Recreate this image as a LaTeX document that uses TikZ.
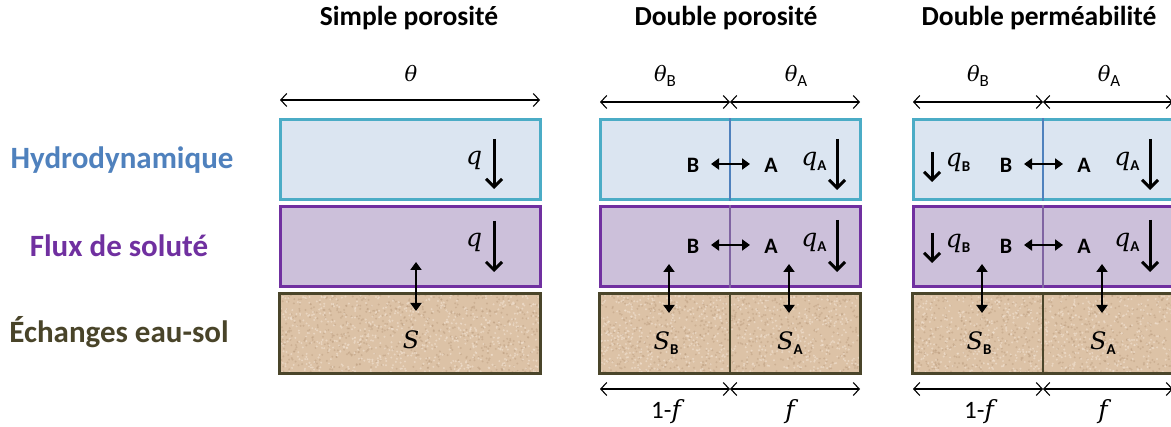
\documentclass[tikz,border=0pt]{standalone}
\usepackage{fontspec}
\setmainfont{Carlito}
\newfontfamily\mfont{DejaVu Serif}
\usetikzlibrary{arrows.meta}
\definecolor{hydfill}{HTML}{DBE5F1}
\definecolor{hydline}{HTML}{4BACC6}
\definecolor{hyddiv}{HTML}{4F81BD}
\definecolor{solfill}{HTML}{CCC0DA}
\definecolor{solline}{HTML}{7030A0}
\definecolor{soldiv}{HTML}{8064A2}
\definecolor{soilfill}{HTML}{DCC2A6}
\definecolor{soilline}{HTML}{4A452A}
\definecolor{soildark}{HTML}{BA9B7D}
\definecolor{soillight}{HTML}{F0E0CF}
\definecolor{hydlab}{HTML}{4F81BD}
\definecolor{sollab}{HTML}{7030A0}
\definecolor{soillab}{HTML}{494429}
\newcommand\mi[1]{{\mfont\itshape #1}}
\newcommand\qsub[1]{\raisebox{-5pt}{\fontsize{15}{15}\selectfont\bfseries #1}}
\newcommand\tsub[1]{\raisebox{-5pt}{\fontsize{17}{17}\selectfont #1}}
\newcommand\mysoiltex[4]{% x0 y0 w h
  \begin{scope}
  \clip (#1,#2) rectangle ++(#3,#4);
  \foreach \i in {1,...,700}{
    \pgfmathsetmacro\xx{#1+rnd*#3}
    \pgfmathsetmacro\yy{#2+rnd*#4}
    \fill[soildark, opacity=0.45] (\xx,\yy) circle (1.1pt);
  }
  \foreach \i in {1,...,700}{
    \pgfmathsetmacro\xx{#1+rnd*#3}
    \pgfmathsetmacro\yy{#2+rnd*#4}
    \fill[soillight, opacity=0.65] (\xx,\yy) circle (1.1pt);
  }
  \end{scope}}
\tikzset{
  hbox/.style={draw=hydline, fill=hydfill, line width=3pt, minimum width=260pt, minimum height=80pt, inner sep=0pt},
  fbox/.style={draw=solline, fill=solfill, line width=3pt, minimum width=260pt, minimum height=80pt, inner sep=0pt},
  ebox/.style={fill=soilfill, minimum width=260pt, minimum height=80pt, inner sep=0pt},
  eborder/.style={draw=soilline, line width=3.2pt},
  dimarrow/.style={line width=1.1pt, {Straight Barb[length=6pt,width=13pt]}-{Straight Barb[length=6pt,width=13pt]}},
  flowarrow/.style={line width=3pt, -{Straight Barb[length=8pt,width=16pt]}},
  exarrow/.style={line width=2.6pt, {Triangle[length=8pt,width=11pt]}-{Triangle[length=8pt,width=11pt]}},
  titlelab/.style={font=\fontsize{27.5}{30}\selectfont\bfseries, anchor=base},
  rowlab/.style={font=\fontsize{31}{34}\selectfont\bfseries, anchor=base},
  mathlab/.style={font=\fontsize{25}{30}\selectfont, inner sep=0pt},
  soillab/.style={font=\fontsize{24}{30}\selectfont, inner sep=0pt},
  thetalab/.style={font=\fontsize{21}{26}\selectfont, anchor=base, inner sep=0pt},
  flab/.style={font=\fontsize{25}{28}\selectfont, anchor=base, inner sep=0pt},
  ablab/.style={font=\fontsize{22}{24}\selectfont\bfseries, inner sep=0pt}
}
\begin{document}
\begin{tikzpicture}[x=1pt,y=-1pt]
\useasboundingbox (0,0) rectangle (1171,427);
\pgfmathsetseed{11}
% row labels
\node[rowlab, text=hydlab] (lh) at (122,169) {Hydrodynamique};
\node[rowlab, text=sollab] (ls) at (119,257) {Flux de soluté};
\node[rowlab, text=soillab] (le) at (119,343) {Échanges eau-sol};
% titles
\node[titlelab] (t1) at (409,26) {Simple porosité};
\node[titlelab] (t2) at (726,26) {Double porosité};
\node[titlelab] (t3) at (1039,26) {Double perméabilité};

% ---------- column 1 ----------
\coordinate (d1l) at (280,100);
\coordinate (d1r) at (540,100);
\draw[dimarrow] (d1l) -- (d1r);
\node[thetalab] (th1) at (411,82) {\mi{θ}};
\node[hbox] (h1) at (410,160) {};
\node[fbox] (f1) at (410,246.5) {};
\node[ebox] (e1) at (410,333.5) {};
\mysoiltex{280}{293.5}{260}{80}
\draw[eborder] (e1.north west) rectangle (e1.south east);
\node[mathlab] (q1) at (474,160) {\mi{q}};
\coordinate (q1a) at (494,139);
\coordinate (q1b) at (494,189);
\draw[flowarrow] (q1a) -- (q1b);
\node[mathlab] (q1s) at (474,242) {\mi{q}};
\coordinate (q1sa) at (494,221);
\coordinate (q1sb) at (494,272);
\draw[flowarrow] (q1sa) -- (q1sb);
\coordinate (x1a) at (416,262);
\coordinate (x1b) at (416,311);
\draw[exarrow] (x1a) -- (x1b);
\node[soillab] (S1) at (411,340) {\mi{S}};

% ---------- columns 2 and 3 ----------
\foreach \ox/\nm in {0/a,313/b}{
\begin{scope}[xshift=\ox pt]
  \coordinate (dl\nm) at (600,102);
  \coordinate (dm\nm) at (730,102);
  \coordinate (dr\nm) at (860,102);
  \draw[dimarrow] (dl\nm) -- (dm\nm);
  \draw[dimarrow] (dm\nm) -- (dr\nm);
  \node[thetalab] (thB\nm) at (665,82) {\mi{θ}\tsub{B}};
  \node[thetalab] (thA\nm) at (796,82) {\mi{θ}\tsub{A}};
  \node[hbox] (h\nm) at (730,160) {};
  \draw[hyddiv, line width=2.4pt] (h\nm.north) -- (h\nm.south);
  \node[fbox] (f\nm) at (730,246.5) {};
  \draw[soldiv, line width=2.4pt] (f\nm.north) -- (f\nm.south);
  \node[ebox] (e\nm) at (730,333.5) {};
  \mysoiltex{600}{293.5}{260}{80}
  \draw[eborder] (e\nm.north west) rectangle (e\nm.south east);
  \draw[soilline, line width=2.4pt] (e\nm.north) -- (e\nm.south);
  % hydro
  \node[ablab] (hB\nm) at (693,165) {B};
  \node[ablab] (hA\nm) at (771,165) {A};
  \coordinate (hxa\nm) at (711,164);
  \coordinate (hxb\nm) at (750,164);
  \draw[exarrow] (hxa\nm) -- (hxb\nm);
  \node[mathlab] (hq\nm) at (814,161) {\mi{q}\qsub{A}};
  \coordinate (hqa\nm) at (837,139);
  \coordinate (hqb\nm) at (837,190);
  \draw[flowarrow] (hqa\nm) -- (hqb\nm);
  % solute
  \node[ablab] (fB\nm) at (693,246) {B};
  \node[ablab] (fA\nm) at (771,246) {A};
  \coordinate (fxa\nm) at (711,245);
  \coordinate (fxb\nm) at (750,245);
  \draw[exarrow] (fxa\nm) -- (fxb\nm);
  \node[mathlab] (fq\nm) at (814,242) {\mi{q}\qsub{A}};
  \coordinate (fqa\nm) at (837,220);
  \coordinate (fqb\nm) at (837,272);
  \draw[flowarrow] (fqa\nm) -- (fqb\nm);
  % exchanges
  \coordinate (xBa\nm) at (669,264);
  \coordinate (xBb\nm) at (669,313);
  \draw[exarrow] (xBa\nm) -- (xBb\nm);
  \coordinate (xAa\nm) at (789,264);
  \coordinate (xAb\nm) at (789,313);
  \draw[exarrow] (xAa\nm) -- (xAb\nm);
  \node[soillab] (SB\nm) at (666,343) {\mi{S}\qsub{B}};
  \node[soillab] (SA\nm) at (790,343) {\mi{S}\qsub{A}};
  % bottom
  \coordinate (bl\nm) at (600,389);
  \coordinate (bm\nm) at (730,389);
  \coordinate (br\nm) at (860,389);
  \draw[dimarrow] (bl\nm) -- (bm\nm);
  \draw[dimarrow] (bm\nm) -- (br\nm);
  \node[flab] (f1\nm) at (666,419) {1-\mi{f}};
  \node[flab] (ff\nm) at (790,419) {\mi{f}};
\end{scope}
}
% extra q_B in column 3
\begin{scope}[xshift=313pt]
  \coordinate (hqBa) at (619,152);
  \coordinate (hqBb) at (619,182);
  \draw[flowarrow] (hqBa) -- (hqBb);
  \node[mathlab] (hqB) at (645,162) {\mi{q}\qsub{B}};
  \coordinate (fqBa) at (619,233);
  \coordinate (fqBb) at (619,263);
  \draw[flowarrow] (fqBa) -- (fqBb);
  \node[mathlab] (fqB) at (645,243) {\mi{q}\qsub{B}};
\end{scope}
\end{tikzpicture}
\end{document}
